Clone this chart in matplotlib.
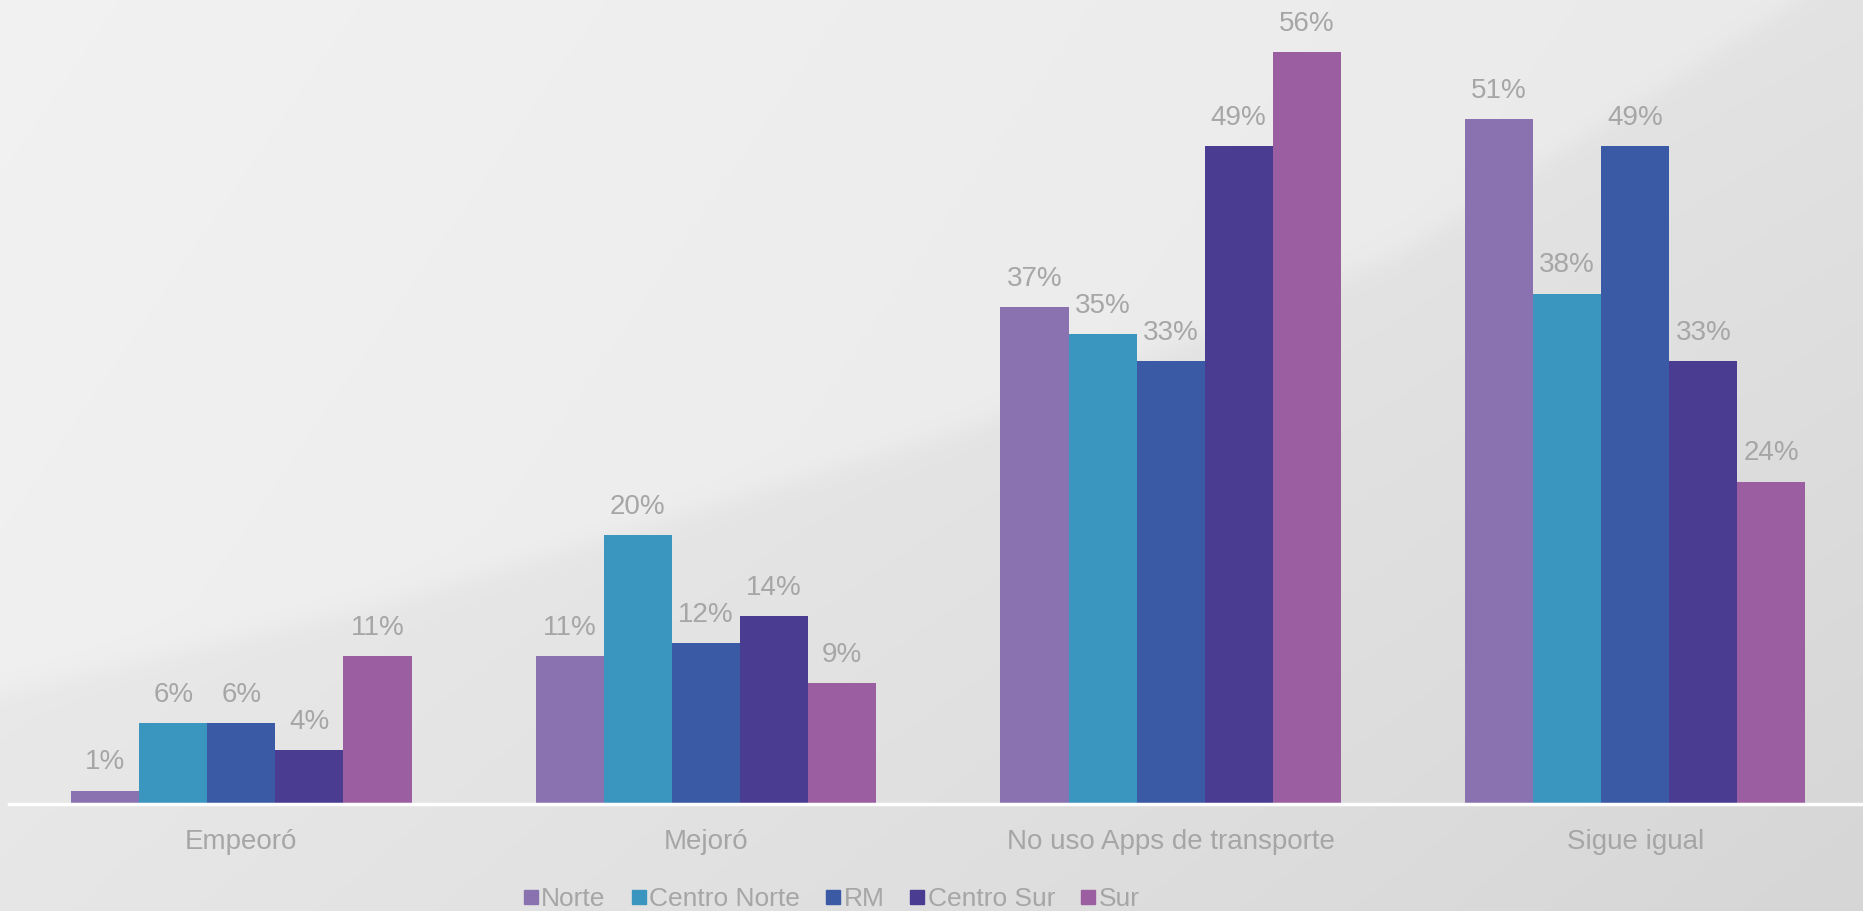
import numpy as np
import matplotlib.pyplot as plt
from matplotlib.lines import Line2D

# =========================
# DATA
# =========================

categories = ["Empeoró", "Mejoró", "No uso Apps de transporte", "Sigue igual"]
series = ["Norte", "Centro Norte", "RM", "Centro Sur", "Sur"]

norte = [1, 11, 37, 51]
centro_norte = [6, 20, 35, 38]
rm = [6, 12, 33, 49]
centro_sur = [4, 14, 49, 33]
sur = [11, 9, 56, 24]

values = [norte, centro_norte, rm, centro_sur, sur]
colors = ["#8a72b0", "#3a96bf", "#3a5aa6", "#4a3c91", "#9b5fa1"]

plt.rcParams['font.family'] = ['Liberation Sans', 'DejaVu Sans']
text_gray = "#a6a6a6"

# =========================
# FIGURE + BACKGROUND
# =========================

fig = plt.figure(figsize=(18.63, 9.11), dpi=100)

bg = fig.add_axes([0, 0, 1, 1], zorder=0)
h, w = 455, 930
yy, xx = np.mgrid[0:1:h * 1j, 0:1:w * 1j]
# curved edge of the lighter swoosh (fraction from top)
edge = np.interp(xx, [0, 0.2, 0.31, 0.52, 0.75, 0.95, 1.0],
                 [0.76, 0.666, 0.60, 0.47, 0.28, 0.02, -0.05])
light = 0.947 - 0.03 * xx - 0.01 * yy
below = (yy - edge).clip(0, 1)
dark = light - 0.028 - 0.02 * below - 0.02 * xx * yy
t = 1 / (1 + np.exp(-(yy - edge) / 0.008))
shade = light * (1 - t) + dark * t
bg.imshow(np.dstack([shade, shade, shade]).clip(0, 1), aspect='auto',
          extent=[0, 1, 0, 1], origin='upper')
bg.axis('off')

# =========================
# BARS
# =========================

ax = fig.add_axes([9 / 1863, 107 / 911, 1 - 9 / 1863, 804 / 911], zorder=1)
ax.patch.set_alpha(0)

x = np.arange(len(categories))
bar_w = 0.1465

for i, (name, vals) in enumerate(zip(series, values)):
    pos = x + (i - 2) * bar_w
    ax.bar(pos, vals, width=bar_w, color=colors[i], label=name)
    for p, v in zip(pos, vals):
        ax.annotate(f"{v}%", (p, v), xytext=(0, 11), textcoords='offset points',
                    ha='center', va='bottom', fontsize=20, color=text_gray)

ax.set_xlim(-0.5, 3.49)
ax.set_ylim(0, 59.87)
ax.set_xticks(x)
ax.set_xticklabels(categories, fontsize=20, color=text_gray)
ax.tick_params(axis='x', length=0, pad=18)
ax.set_yticks([])
for s in ['top', 'right', 'left']:
    ax.spines[s].set_visible(False)
ax.spines['bottom'].set_color('white')
ax.spines['bottom'].set_linewidth(2.5)

# =========================
# LEGEND
# =========================

handles = [Line2D([], [], marker='s', linestyle='', markersize=10,
                  markerfacecolor=c, markeredgecolor=c) for c in colors]
leg = fig.legend(handles, series, loc='center', ncol=5,
                 bbox_to_anchor=(832 / 1863, 1 - 899 / 911),
                 frameon=False, fontsize=19,
                 handlelength=0.5, handletextpad=0.15, columnspacing=1.0)
for t in leg.get_texts():
    t.set_color(text_gray)

fig.savefig("out.png", dpi=100)
